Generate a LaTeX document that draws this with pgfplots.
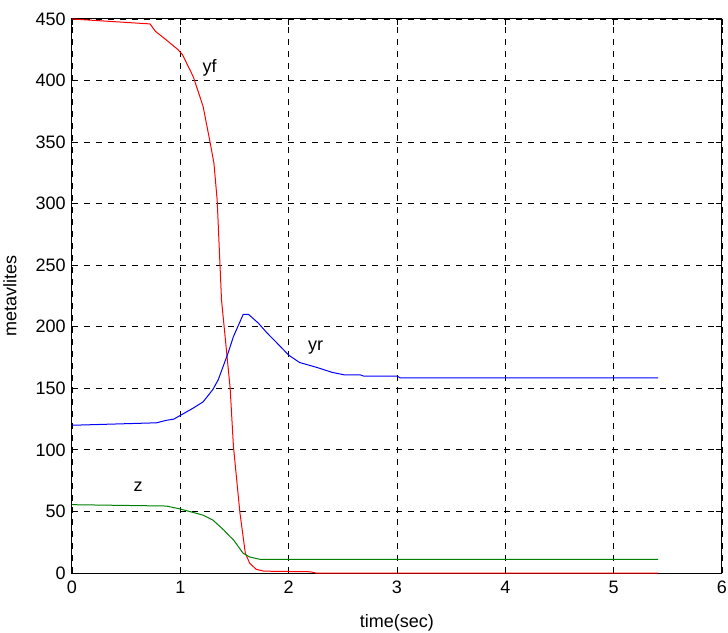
\documentclass[border=0pt]{standalone}
\usepackage{fontspec}
\setmainfont{Liberation Sans}
\usepackage{pgfplots}
\pgfplotsset{compat=1.18}

\begin{document}
\fontsize{9}{11}\selectfont
\begin{tikzpicture}
\useasboundingbox (-36pt,-29.5pt) rectangle (328pt,286.5pt);
\begin{axis}[
    at={(0pt,0pt)}, anchor=south west,
    scale only axis,
    width=325pt, height=277pt,
    xmin=0, xmax=6, ymin=0, ymax=450,
    xtick={0,1,...,6}, ytick={0,50,...,450},
    xlabel={time(sec)}, ylabel={metavlites},
    xlabel style={at={(axis description cs:0.5,0)}, anchor=center, inner sep=0pt, yshift=-25pt},
    ylabel style={at={(axis description cs:0,0.5)}, anchor=center, inner sep=0pt, yshift=31pt},
    grid=major,
    major grid style={black, dashed, line width=0.4pt},
    tick align=inside,
    major tick length=3pt,
    axis line style={black, line width=0.5pt},
    tick style={black, line width=0.4pt},
    xticklabel style={yshift=-1pt},
    ticklabel style={font=\fontsize{9}{11}\selectfont},
    label style={font=\fontsize{9}{11}\selectfont},
    /pgf/number format/assume math mode=true,
    every axis plot/.append style={line width=0.5pt},
]
% yf
\addplot[red] coordinates {
(0,450)(0.72,446)(0.77,440)(0.87,433)(0.98,425)(1.02,421)(1.12,403)(1.21,379)
(1.27,352)(1.31,333)(1.34,303)(1.38,222)(1.46,150)(1.49,103)(1.55,49)
(1.60,16)(1.64,8)(1.70,3)(1.77,1.5)(2.2,1)(2.25,0)(5.41,0)
};
% yr
\addplot[blue] coordinates {
(0,120)(0.78,122)(0.87,124)(0.94,125)(1.0,128)(1.12,134)(1.21,139)(1.30,149)
(1.35,157)(1.44,178.5)(1.49,192)(1.58,210)(1.63,210)(1.72,203)(1.80,195)
(1.89,187)(2.0,177)(2.1,171)(2.26,167)(2.40,163)(2.51,161)(2.66,161)(2.69,160)
(3.0,160)(3.03,158.5)(5.41,158.5)
};
% z
\addplot[green!50!black] coordinates {
(0,55.5)(0.87,54.4)(1.0,52)(1.21,47)(1.30,43)(1.40,35)(1.46,29.5)(1.49,27)
(1.58,16)(1.64,13)(1.74,11)(5.41,11)
};
\node at (axis cs:1.27,410) {yf};
\node at (axis cs:2.25,183) {yr};
\node at (axis cs:0.61,70) {z};
\end{axis}
\end{tikzpicture}
\end{document}
